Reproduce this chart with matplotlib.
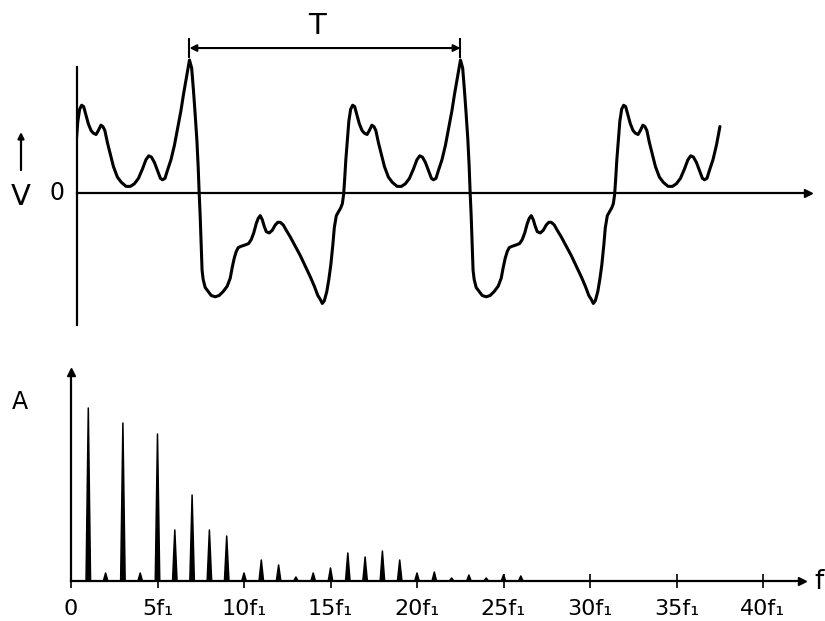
import matplotlib
matplotlib.use('Agg')
import matplotlib.pyplot as plt
import numpy as np

# one period of the waveform, traced from the tall peak
# phase in % of the period T, voltage in % of the peak value
PHASE = [0.0, 0.81, 1.48, 2.11, 2.73, 3.21, 3.58, 3.95, 4.21, 4.43,
         4.65, 5.06, 5.80, 6.91, 8.02, 9.49, 10.97, 12.45, 13.93, 15.04,
         15.77, 16.51, 17.25, 17.99, 19.10, 20.58, 21.80, 22.79, 23.72, 24.64,
         25.38, 26.12, 26.86, 27.59, 28.33, 29.44, 30.55, 31.66, 32.58, 33.51,
         34.61, 35.72, 37.20, 39.05, 40.89, 42.74, 44.59, 46.07, 47.36, 48.28,
         49.02, 49.76, 50.68, 51.42, 52.16, 52.90, 53.45, 54.19, 55.04, 55.85,
         56.41, 56.89, 57.26, 57.70, 58.26, 58.81, 59.48, 60.21, 60.95, 61.76,
         62.69, 63.69, 64.54, 65.53, 66.38, 67.31, 68.05, 68.78, 69.71, 70.82,
         71.93, 73.40, 74.88, 76.62, 78.20, 79.68, 81.16, 82.64, 83.93, 84.97,
         85.97, 87.07, 88.18, 89.29, 90.03, 90.95, 91.87, 93.17, 94.46, 95.75,
         96.86, 97.78, 98.71, 99.45]
VOLTS = [100, 94, 77, 59, 40, 20, 0, -17, -32, -47,
         -58, -65, -71, -74, -77, -78, -77, -74, -70, -64,
         -56, -49, -44, -41, -40, -39, -38, -35, -30, -23,
         -19, -17, -20, -25, -29, -30, -28, -24, -22, -22,
         -24, -28, -33, -40, -47, -55, -63, -70, -77, -80,
         -83, -81, -74, -65, -54, -39, -26, -17, -14, -11,
         -8, -1, 10, 25, 40, 54, 63, 66, 65, 59,
         52, 47, 45, 44, 47, 51, 50, 47, 38, 29,
         20, 12, 8, 5, 5, 7, 11, 18, 25, 28,
         27, 23, 17, 11, 10, 11, 17, 25, 36, 50,
         62, 74, 85, 94]
PEAK_T = 0.415   # time of the first tall peak (in periods)
T_END = 2.373    # where the drawn trace stops (in periods)
CYCLES = [-1, 0, 1]

# line spectrum: harmonic number (multiples of f1) and amplitude (arbitrary units)
HARMONIC = list(range(1, 27))
AMPLITUDE = [173, 8, 158, 8, 147, 51, 86, 51, 45, 8,
             21, 16, 4, 8, 13, 28, 24, 30, 21, 8,
             9, 3, 6, 3, 6, 5]
FREQ_TICKS = [0, 5, 10, 15, 20, 25, 30, 35, 40]
FREQ_LABELS = ['0', '5f\u2081', '10f\u2081', '15f\u2081', '20f\u2081',
               '25f\u2081', '30f\u2081', '35f\u2081', '40f\u2081']

W, H = 825, 621
plt.rcParams['font.family'] = ['DejaVu Sans']

fig = plt.figure(figsize=(W / 100, H / 100), dpi=100)
fig.patch.set_facecolor('white')


def fx(px):
    return px / W


def fy(py):
    return 1 - py / H


# ---- waveform ----
ax1 = fig.add_axes([fx(77), fy(325), (808 - 77) / W, (325 - 10) / H])
t = np.concatenate([PEAK_T + k + np.array(PHASE) / 100 for k in CYCLES])
v = np.tile(np.array(VOLTS) / 100, len(CYCLES))
keep = t <= T_END
ax1.plot(t[keep], v[keep], color='black', lw=2.2,
         solid_joinstyle='round', solid_capstyle='round')
ax1.set_xlim(0, (808 - 77) / 271)
ax1.set_ylim(-0.992, 1.376)
for side in ('top', 'right'):
    ax1.spines[side].set_visible(False)
ax1.spines['bottom'].set_position(('data', 0))
ax1.spines['left'].set_bounds(-0.992, 0.947)
for side in ('bottom', 'left'):
    ax1.spines[side].set_linewidth(1.6)
ax1.set_xticks([])
ax1.set_yticks([])
ax1.plot(1, 0, '>', color='black', ms=6, transform=ax1.get_yaxis_transform(), clip_on=False)

# period marker
ax1.annotate('', xy=(PEAK_T, 1.09), xytext=(PEAK_T + 1, 1.09),
             arrowprops=dict(arrowstyle='<|-|>', color='black', lw=1.5,
                             shrinkA=0, shrinkB=0, mutation_scale=10))
ax1.vlines([PEAK_T, PEAK_T + 1], 1.015, 1.165, color='black', lw=1.5)
ax1.text(0.886, 1.256, 'T', ha='center', va='center', fontsize=21)

fig.text(fx(21), fy(197), 'V', ha='center', va='center', fontsize=21)
fig.text(fx(57), fy(193), '0', ha='center', va='center', fontsize=17)
ax1.annotate('', xy=(fx(21), fy(132)), xytext=(fx(21), fy(170)),
             xycoords='figure fraction', textcoords='figure fraction',
             arrowprops=dict(arrowstyle='-|>', color='black', lw=1.6,
                             shrinkA=0, shrinkB=0, mutation_scale=9))

# ---- spectrum ----
ax2 = fig.add_axes([fx(71), fy(581), (802 - 71) / W, (581 - 372) / H])
half = 0.13
for n, a in zip(HARMONIC, AMPLITUDE):
    ax2.fill([n - half, n, n + half], [0, a, 0], color='black', lw=1.1,
             edgecolor='black', joinstyle='round')
ax2.set_xlim(0, (802 - 71) / 17.3)
ax2.set_ylim(0, 581 - 372)
for side in ('top', 'right'):
    ax2.spines[side].set_visible(False)
for side in ('bottom', 'left'):
    ax2.spines[side].set_linewidth(1.6)
ax2.set_yticks([])
ax2.set_xticks(FREQ_TICKS)
ax2.set_xticklabels(FREQ_LABELS, fontsize=16)
ax2.tick_params(axis='x', direction='inout', length=10, width=1.2, pad=8)
ax2.plot(1, 0, '>', color='black', ms=6, transform=ax2.get_yaxis_transform(), clip_on=False)
ax2.plot(0, 1, '^', color='black', ms=6, transform=ax2.get_xaxis_transform(), clip_on=False)

fig.text(fx(20), fy(402), 'A', ha='center', va='center', fontsize=17)
fig.text(fx(814), fy(582), 'f', ha='left', va='center', fontsize=19)

fig.savefig('out.png', dpi=100, facecolor='white')
